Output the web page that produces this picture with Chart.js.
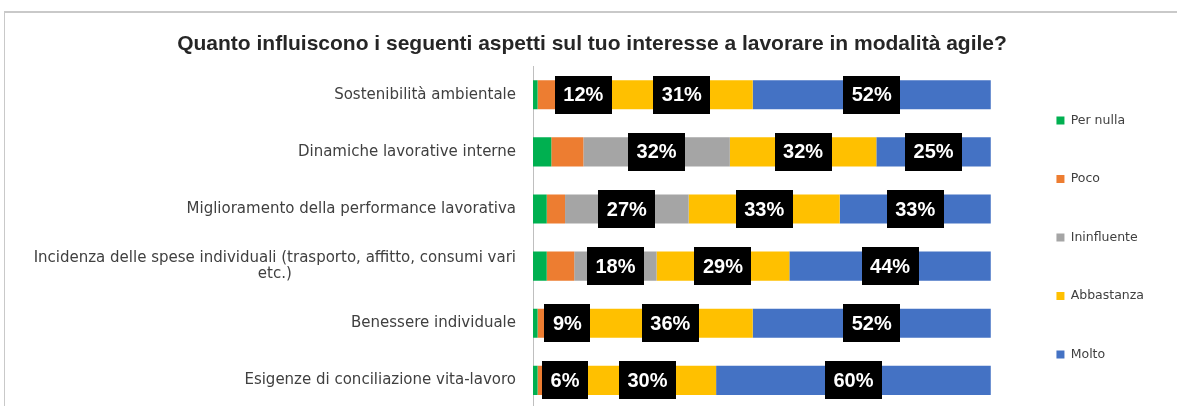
<!DOCTYPE html>
<html>
<head>
<meta charset="utf-8">
<script src="https://cdn.jsdelivr.net/npm/chart.js@4.4.0/dist/chart.umd.min.js"></script>
<style>
    html, body { margin: 0; padding: 0; background: #fff; overflow: hidden; }
    #cornice {
        position: absolute; left: 4px; top: 11px;
        width: 1173px; height: 400px;
        border-top: 2px solid #c9c9c9; border-left: 1px solid #c9c9c9;
    }
</style>
</head>
<body>
<div id="cornice"><canvas id="grafico" width="1173" height="400"></canvas></div>
<script>
// Dati (percentuali)
const categorie = [
    'Sostenibilità ambientale',
    'Dinamiche lavorative interne',
    'Miglioramento della performance lavorativa',
    ['Incidenza delle spese individuali (trasporto, affitto, consumi vari', 'etc.)'],
    'Benessere individuale',
    'Esigenze di conciliazione vita-lavoro'
];
const serie = ['Per nulla', 'Poco', 'Ininfluente', 'Abbastanza', 'Molto'];
const perNulla    = [1, 4, 3, 3, 1, 1];
const poco        = [4, 7, 4, 6, 2, 3];
const ininfluente = [12, 32, 27, 18, 9, 6];
const abbastanza  = [31, 32, 33, 29, 36, 30];
const molto       = [52, 25, 33, 44, 52, 60];

const colori = ['#00b050', '#ed7d31', '#a5a5a5', '#ffc000', '#4472c4'];
const conEtichetta = [false, false, true, true, true]; // solo queste serie hanno il box nero

// Plugin per le etichette nere con testo bianco
const etichette = {
    id: 'etichette',
    afterDatasetsDraw(chart) {
        const ctx = chart.ctx;
        ctx.save();
        ctx.font = 'bold 20px "Liberation Sans"';
        ctx.textAlign = 'center';
        ctx.textBaseline = 'middle';
        chart.data.datasets.forEach((ds, i) => {
            if (!conEtichetta[i]) return;
            chart.getDatasetMeta(i).data.forEach((bar, j) => {
                const testo = ds.data[j] + '%';
                const cx = (bar.x + bar.base) / 2;
                const w = ctx.measureText(testo).width + 17;
                ctx.fillStyle = '#000';
                ctx.fillRect(Math.round(cx - w / 2), Math.round(bar.y - 19), Math.round(w), 38);
                ctx.fillStyle = '#fff';
                ctx.fillText(testo, cx, bar.y + 1);
            });
        });
        ctx.restore();
    }
};

// Centra la seconda riga dell'etichetta su due righe (come in Excel)
const etichettaCentrata = {
    id: 'etichettaCentrata',
    beforeDraw(chart) {
        const items = chart.scales.y.getLabelItems();
        const ctx = chart.ctx;
        items.forEach(item => {
            const opz = item.options || item;
            if (!Array.isArray(item.label) || opz.textAlign !== 'right') return;
            ctx.save();
            ctx.font = item.font.string;
            const w = Math.max(...item.label.map(t => ctx.measureText(t).width));
            ctx.restore();
            opz.textAlign = 'center';
            opz.translation[0] -= w / 2;
        });
    }
};

const valori = [perNulla, poco, ininfluente, abbastanza, molto];

new Chart(document.getElementById('grafico'), {
    type: 'bar',
    data: {
        labels: categorie,
        datasets: serie.map((nome, i) => ({
            label: nome,
            data: valori[i],
            backgroundColor: colori[i],
            borderWidth: 0,
            barPercentage: 0.51,
            categoryPercentage: 1
        }))
    },
    options: {
        indexAxis: 'y',
        responsive: false,
        animation: false,
        layout: { padding: { left: 25, right: 24, top: 0, bottom: 4 } },
        scales: {
            x: {
                stacked: true, min: 0, max: 104.3, display: false
            },
            y: {
                stacked: true,
                grid: { display: false, drawTicks: false },
                border: { display: true, color: '#bfbfbf', width: 1 },
                ticks: {
                    padding: 17,
                    color: '#404040',
                    font: { family: '"DejaVu Sans"', size: 15, lineHeight: 1.1 }
                },
                afterFit(scale) {
                    scale.width = 503;
                    scale.paddingTop = 0;
                    scale.paddingBottom = 0;
                }
            }
        },
        plugins: {
            title: {
                display: true,
                text: 'Quanto influiscono i seguenti aspetti sul tuo interesse a lavorare in modalità agile?',
                color: '#262626',
                font: { family: '"Liberation Sans"', size: 21, weight: 'bold' },
                padding: { top: 19, bottom: 9 }
            },
            legend: {
                position: 'right',
                fullSize: false,
                labels: {
                    boxWidth: 8, boxHeight: 8,
                    padding: 46,
                    color: '#404040',
                    font: { family: '"DejaVu Sans"', size: 12.5 }
                }
            },
            tooltip: { enabled: false }
        }
    },
    plugins: [etichettaCentrata, etichette]
});
</script>
</body>
</html>
